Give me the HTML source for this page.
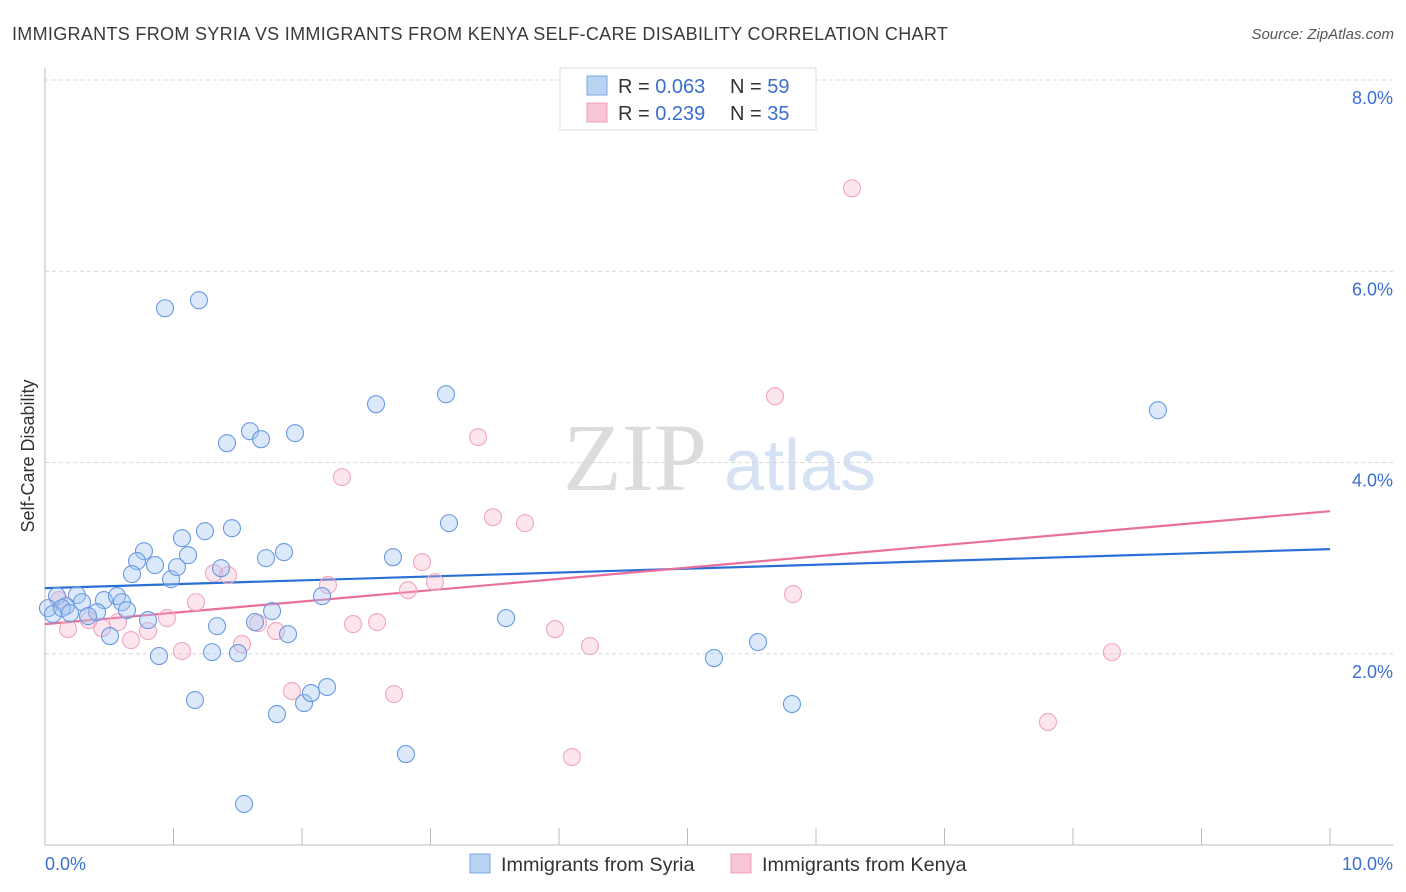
<!DOCTYPE html>
<html><head><meta charset="utf-8"><style>
body{margin:0;background:#fff;font-family:"Liberation Sans",sans-serif;}
#wrap{position:relative;width:1406px;height:892px;overflow:hidden;}
</style></head><body>
<div id="wrap">
<svg id="svg" width="1406" height="892" xmlns="http://www.w3.org/2000/svg">
<text x="12" y="40" font-size="18" fill="#3a3a3a" letter-spacing="0.31">IMMIGRANTS FROM SYRIA VS IMMIGRANTS FROM KENYA SELF-CARE DISABILITY CORRELATION CHART</text>
<text x="1394" y="39" font-size="15" fill="#555" font-style="italic" text-anchor="end">Source: ZipAtlas.com</text>
<text x="635" y="490" font-size="96" fill="#dcdcdc" font-family="Liberation Serif,serif" text-anchor="middle">ZIP</text>
<text x="800" y="490" font-size="72" fill="#d4e2f4" text-anchor="middle">atlas</text>
<g id="grid"></g><g id="axes"></g><g id="lines"></g><g id="pts"></g>
<text transform="translate(34,456) rotate(-90)" font-size="18" fill="#333" text-anchor="middle">Self-Care Disability</text>
<g>
<rect x="560" y="68" width="256" height="62" fill="#fff" stroke="#ddd"/>
<rect x="587" y="76" width="20" height="19" fill="#b9d3f3" stroke="#7aa6e0"/>
<rect x="587" y="103" width="20" height="19" fill="#f9c6d6" stroke="#eea0b8"/>
<text x="618" y="93" font-size="20" fill="#333">R = <tspan fill="#3a6fd0">0.063</tspan><tspan x="730">N = </tspan><tspan fill="#3a6fd0">59</tspan></text>
<text x="618" y="120" font-size="20" fill="#333">R = <tspan fill="#3a6fd0"> 0.239</tspan><tspan x="730">N = </tspan><tspan fill="#3a6fd0">35</tspan></text>
</g>
<g>
<rect x="470" y="854" width="20" height="19" fill="#b9d3f3" stroke="#7aa6e0"/>
<text x="501" y="871" font-size="19.8" fill="#333">Immigrants from Syria</text>
<rect x="731" y="854" width="20" height="19" fill="#f9c6d6" stroke="#eea0b8"/>
<text x="762" y="871" font-size="19.8" fill="#333">Immigrants from Kenya</text>
</g>
</svg>
</div>
<script>
const yTicks=[2,4,6,8];
const yTickLabels=["2.0%","4.0%","6.0%","8.0%"];
const xTickVals=[1,2,3,4,5,6,7,8,9,10];
const xEndLabels=["0.0%","10.0%"];
const syriaX=[0.934,1.198,2.576,3.121,8.661,1.595,1.416,1.681,1.946,3.144,1.455,1.245,1.066,1.113,0.770,0.716,0.856,1.720,1.860,2.708,0.677,0.981,1.027,1.370,0.093,0.249,0.459,0.560,0.599,0.288,0.163,0.405,0.638,0.335,0.023,0.062,0.802,1.339,1.634,1.767,1.891,2.156,3.588,0.506,0.887,1.300,1.502,5.206,5.549,1.167,1.805,2.016,2.070,2.195,5.813,2.809,1.549,0.132,0.195];
const syriaY=[5.613,5.697,4.610,4.714,4.547,4.327,4.202,4.244,4.307,3.366,3.313,3.282,3.209,3.031,3.073,2.969,2.927,3.000,3.063,3.010,2.833,2.780,2.906,2.895,2.603,2.613,2.561,2.603,2.540,2.540,2.498,2.435,2.456,2.394,2.477,2.415,2.352,2.289,2.331,2.446,2.205,2.603,2.373,2.185,1.976,2.017,2.007,1.955,2.122,1.516,1.369,1.484,1.589,1.652,1.474,0.951,0.429,2.477,2.425];
const kenyaX=[6.280,5.681,3.370,2.311,3.486,3.735,2.934,1.315,1.424,2.202,3.035,2.825,5.821,1.175,0.109,0.949,0.568,0.342,1.658,1.798,2.397,2.584,3.969,0.802,0.179,0.444,0.669,1.066,1.533,4.241,8.303,1.922,2.716,7.805,4.101];
const kenyaY=[6.867,4.693,4.265,3.847,3.428,3.366,2.958,2.843,2.822,2.718,2.749,2.665,2.624,2.540,2.561,2.373,2.331,2.352,2.320,2.237,2.310,2.331,2.258,2.237,2.258,2.268,2.143,2.028,2.101,2.080,2.017,1.610,1.578,1.286,0.920];
const syriaTrend=[2.686,3.094];
const kenyaTrend=[2.310,3.491];

const X0=45,X1=1330,Y0=845,YTOP=80;
const sx=v=>X0+(X1-X0)*v/10;
const sy=v=>Y0-(Y0-YTOP)*v/8;
const NS="http://www.w3.org/2000/svg";
function mk(tag,attrs,parent){const e=document.createElementNS(NS,tag);for(const k in attrs)e.setAttribute(k,attrs[k]);parent.appendChild(e);return e;}
const grid=document.getElementById('grid'),axes=document.getElementById('axes'),lines=document.getElementById('lines'),pts=document.getElementById('pts');
yTicks.forEach((t,i)=>{
  const g=mk('line',{x1:X0,x2:1393,y1:sy(t),y2:sy(t),stroke:'#d8d8d8','stroke-dasharray':'4,3'},grid);
  
  
  const l=mk('text',{x:1393,y:sy(t)+24,'font-size':18,fill:'#3a6fd0','text-anchor':'end'},axes);
  l.textContent=yTickLabels[i];
  
  
});
const ya=mk('line',{x1:X0,x2:X0,y1:68,y2:Y0,stroke:'#bbb'},axes);


const xa=mk('line',{x1:X0,x2:1393,y1:Y0,y2:Y0,stroke:'#bbb'},axes);


xTickVals.forEach(t=>{
  const k=mk('line',{x1:sx(t),x2:sx(t),y1:828,y2:Y0,stroke:'#bbb'},axes);
  
  
});
[[0,'start',45],[10,'end',1393]].forEach((a,i)=>{
  const l=mk('text',{x:a[2],y:870,'font-size':18,fill:'#3a6fd0','text-anchor':a[1]},axes);
  l.textContent=xEndLabels[i];
  
  
});
function trend(tr,color,name){
  const l=mk('line',{x1:sx(0),y1:sy(tr[0]),x2:sx(10),y2:sy(tr[1]),stroke:color,'stroke-width':2.2},lines);
  
  
}
function dots(xs,ys,fill,stroke,name){
  xs.forEach((x,i)=>{
    const c=mk('circle',{cx:sx(x),cy:sy(ys[i]),r:8.5,fill:fill,stroke:stroke,'stroke-width':1.1},pts);
    
    
  });
}
dots(kenyaX,kenyaY,'rgba(246,175,199,0.32)','#efa6be','kenya-point');
dots(syriaX,syriaY,'rgba(160,197,242,0.38)','#6b9ae0','syria-point');
trend(syriaTrend,'#2a6fd6','syria-trend-line');
trend(kenyaTrend,'#e8709a','kenya-trend-line');
</script>
</body></html>
